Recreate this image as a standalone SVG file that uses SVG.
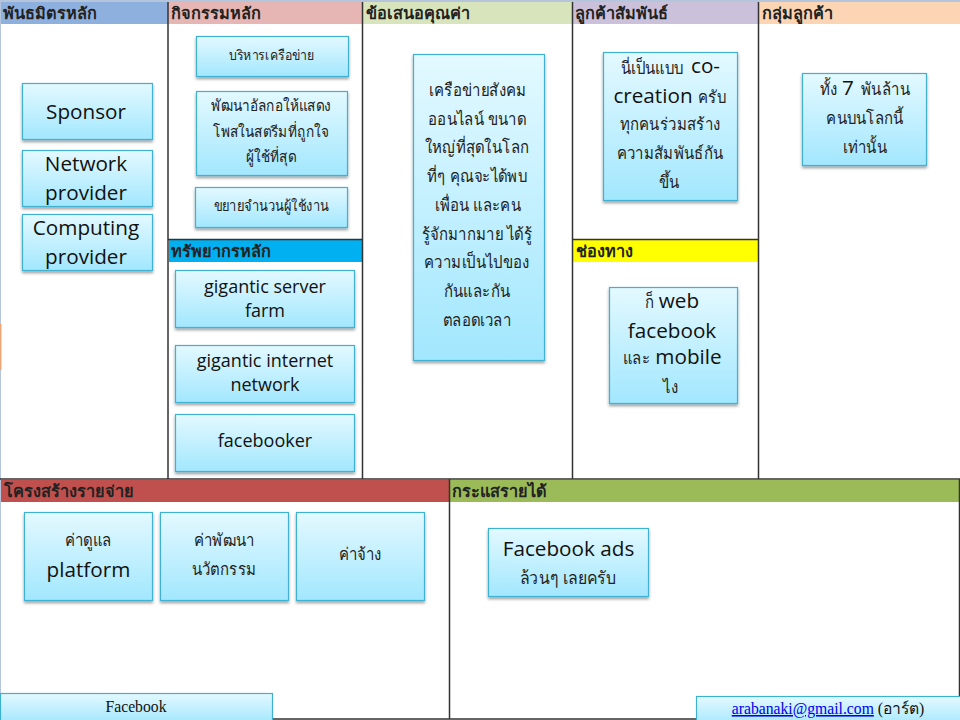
<svg xmlns="http://www.w3.org/2000/svg" width="960" height="720" viewBox="0 0 960 720">
<style>
text{font-family:"Open Sans","Noto Sans","Noto Sans CJK SC","DejaVu Sans",sans-serif;fill:#111;text-anchor:middle}
.h{font-size:16.300px;font-weight:700;text-anchor:start;fill:#222}
.l{font-size:20.700px}
.m{font-size:18px}
.th{font-size:17px;fill:#222;transform-box:fill-box;transform-origin:center;transform:scaleX(.88)}
.sm{font-size:15.500px}
.s{font-family:"Liberation Serif",serif;font-size:15.700px}
.box{fill:url(#g);stroke:#3fb1d0;stroke-width:1.2;filter:url(#sh)}
.foot{fill:url(#g);stroke:#3fb1d0;stroke-width:1.2}
.line{stroke:#333;stroke-width:1.5;fill:none}
</style>
<defs>
<linearGradient id="g" x1="0" y1="0" x2="0" y2="1"><stop offset="0" stop-color="#e3f9ff"/><stop offset="1" stop-color="#a2e7fe"/></linearGradient>
<filter id="sh" x="-10%" y="-10%" width="120%" height="125%"><feDropShadow dx="0" dy="2" stdDeviation="1.5" flood-color="#000" flood-opacity=".4"/></filter>
</defs>
<rect width="960" height="720" fill="#fff"/>
<rect x="0" y="0" width="960" height="2" fill="#b5c6dc"/>
<rect x="0" y="2" width="1" height="718" fill="#b5c6dc"/>
<rect x="0" y="324" width="1.500" height="46" fill="#e8a87a"/>
<g id="headers">
<rect x="1" y="2" width="167" height="22" fill="#8eb0de"/>
<rect x="168" y="2" width="194" height="22" fill="#e6b6b4"/>
<rect x="363" y="2" width="209" height="22" fill="#d7e4bc"/>
<rect x="573" y="2" width="185" height="22" fill="#ccc1da"/>
<rect x="759" y="2" width="201" height="22" fill="#fcd5b4"/>
<rect x="169" y="240" width="193" height="22" fill="#00b0f0"/>
<rect x="573" y="240" width="185" height="22" fill="#ffff00"/>
<rect x="1" y="480" width="448" height="22" fill="#c0504d"/>
<rect x="450" y="480" width="510" height="22" fill="#9bbb59"/>
<text class="h" x="3" y="19">พันธมิตรหลัก</text>
<text class="h" x="171" y="19">กิจกรรมหลัก</text>
<text class="h" x="366" y="19">ข้อเสนอคุณค่า</text>
<text class="h" x="575" y="19">ลูกค้าสัมพันธ์</text>
<text class="h" x="762" y="19">กลุ่มลูกค้า</text>
<text class="h" x="171" y="257">ทรัพยากรหลัก</text>
<text class="h" x="576" y="257">ช่องทาง</text>
<text class="h" x="4" y="497">โครงสร้างรายจ่าย</text>
<text class="h" x="452" y="497">กระแสรายได้</text>
</g>
<g id="connectors">
<path class="line" d="M168 2V479M362.500 2V479M572.500 2V479M758.500 2V479M449.500 479V719M0 479H960M168 239.500H362.500M572.500 239.500H758.500M273 719H696M959.500 479V697"/>
</g>
<g id="n1"><rect class="box" x="22.500" y="83.500" width="130" height="56"/><text class="l" x="86" y="119">Sponsor</text></g>
<g id="n2"><rect class="box" x="22.500" y="150.500" width="130" height="56"/><text class="l" x="86" y="171">Network</text><text class="l" x="86" y="200">provider</text></g>
<g id="n3"><rect class="box" x="22.500" y="214.500" width="130" height="56"/><text class="l" x="86" y="235">Computing</text><text class="l" x="86" y="264">provider</text></g>
<g id="n4"><rect class="box" x="196.500" y="36.500" width="152" height="40"/><text class="th sm" style="font-size:14px" x="272" y="60">บริหารเครือข่าย</text></g>
<g id="n5"><rect class="box" x="196.500" y="91.500" width="151" height="84"/><text class="th sm" x="271" y="111">พัฒนาอัลกอให้แสดง</text><text class="th sm" x="271" y="137">โพสในสตรีมที่ถูกใจ</text><text class="th sm" x="271" y="162">ผู้ใช้ที่สุด</text></g>
<g id="n6"><rect class="box" x="195.500" y="187.500" width="152" height="40"/><text class="th sm" style="font-size:14.700px" x="271" y="211">ขยายจำนวนผู้ใช้งาน</text></g>
<g id="n7"><rect class="box" x="175.500" y="270.500" width="179" height="57"/><text class="m" x="265" y="293">gigantic server</text><text class="m" x="265" y="317">farm</text></g>
<g id="n8"><rect class="box" x="175.500" y="345.500" width="179" height="57"/><text class="m" x="265" y="367">gigantic internet</text><text class="m" x="265" y="391">network</text></g>
<g id="n9"><rect class="box" x="175.500" y="414.500" width="179" height="57"/><text class="m" x="265" y="447">facebooker</text></g>
<g id="n10"><rect class="box" x="413.500" y="54.500" width="131" height="306"/>
<text class="th" x="478" y="96">เครือข่ายสังคม</text><text class="th" x="477" y="125">ออนไลน์ ขนาด</text><text class="th" x="477" y="153">ใหญ่ที่สุดในโลก</text><text class="th" x="477" y="182">ที่ๆ คุณจะได้พบ</text><text class="th" x="478" y="211">เพื่อน และคน</text><text class="th" x="477" y="240">รู้จักมากมาย ได้รู้</text><text class="th" x="477" y="268">ความเป็นไปของ</text><text class="th" x="477" y="297">กันและกัน</text><text class="th" x="477" y="326">ตลอดเวลา</text></g>
<g id="n11"><rect class="box" x="603.500" y="52.500" width="134" height="148"/>
<text class="th" x="652" y="74">นี่เป็นแบบ</text><text class="l" x="705.500" y="73">co-</text><text class="l" x="653" y="103">creation</text><text class="th" x="712" y="103">ครับ</text><text class="th" x="670" y="130">ทุกคนร่วมสร้าง</text><text class="th" x="670" y="159">ความสัมพันธ์กัน</text><text class="th" x="669" y="188">ขึ้น</text></g>
<g id="n12"><rect class="box" x="802.500" y="73.500" width="124" height="92"/>
<text class="th" x="829" y="95">ทั้ง</text><text class="l" x="848" y="95">7</text><text class="th" x="885.500" y="95">พันล้าน</text><text class="th" x="865" y="124">คนบนโลกนี้</text><text class="th" x="865" y="153">เท่านั้น</text></g>
<g id="n13"><rect class="box" x="609.500" y="287.500" width="128" height="116"/>
<text class="th" x="649.500" y="308">ก็</text><text class="l" x="679" y="308">web</text><text class="l" x="672" y="338">facebook</text><text class="th" x="636.500" y="364">และ</text><text class="l" x="688.500" y="364">mobile</text><text class="th" x="671" y="393">ไง</text></g>
<g id="n14"><rect class="box" x="24.500" y="512.500" width="128" height="88"/><text class="th" x="88" y="546">ค่าดูแล</text><text class="l" x="88.500" y="577">platform</text></g>
<g id="n15"><rect class="box" x="160.500" y="512.500" width="128" height="88"/><text class="th" x="224" y="546">ค่าพัฒนา</text><text class="th" x="224" y="575">นวัตกรรม</text></g>
<g id="n16"><rect class="box" x="296.500" y="512.500" width="128" height="88"/><text class="th" x="360" y="560">ค่าจ้าง</text></g>
<g id="n17"><rect class="box" x="488.500" y="528.500" width="160" height="68"/><text class="l" x="568.500" y="556">Facebook ads</text><text class="th" style="font-size:18px" x="568" y="584">ล้วนๆ เลยครับ</text></g>
<g id="n18"><rect class="foot" x="0.500" y="693.500" width="272" height="30"/><text class="s" x="136" y="712">Facebook</text></g>
<g id="n19"><rect class="foot" x="696.500" y="696.500" width="268" height="30"/><text class="s" x="828" y="714"><tspan fill="#0000ee" text-decoration="underline">arabanaki@gmail.com</tspan><tspan> (อาร์ต)</tspan></text></g>
</svg>
